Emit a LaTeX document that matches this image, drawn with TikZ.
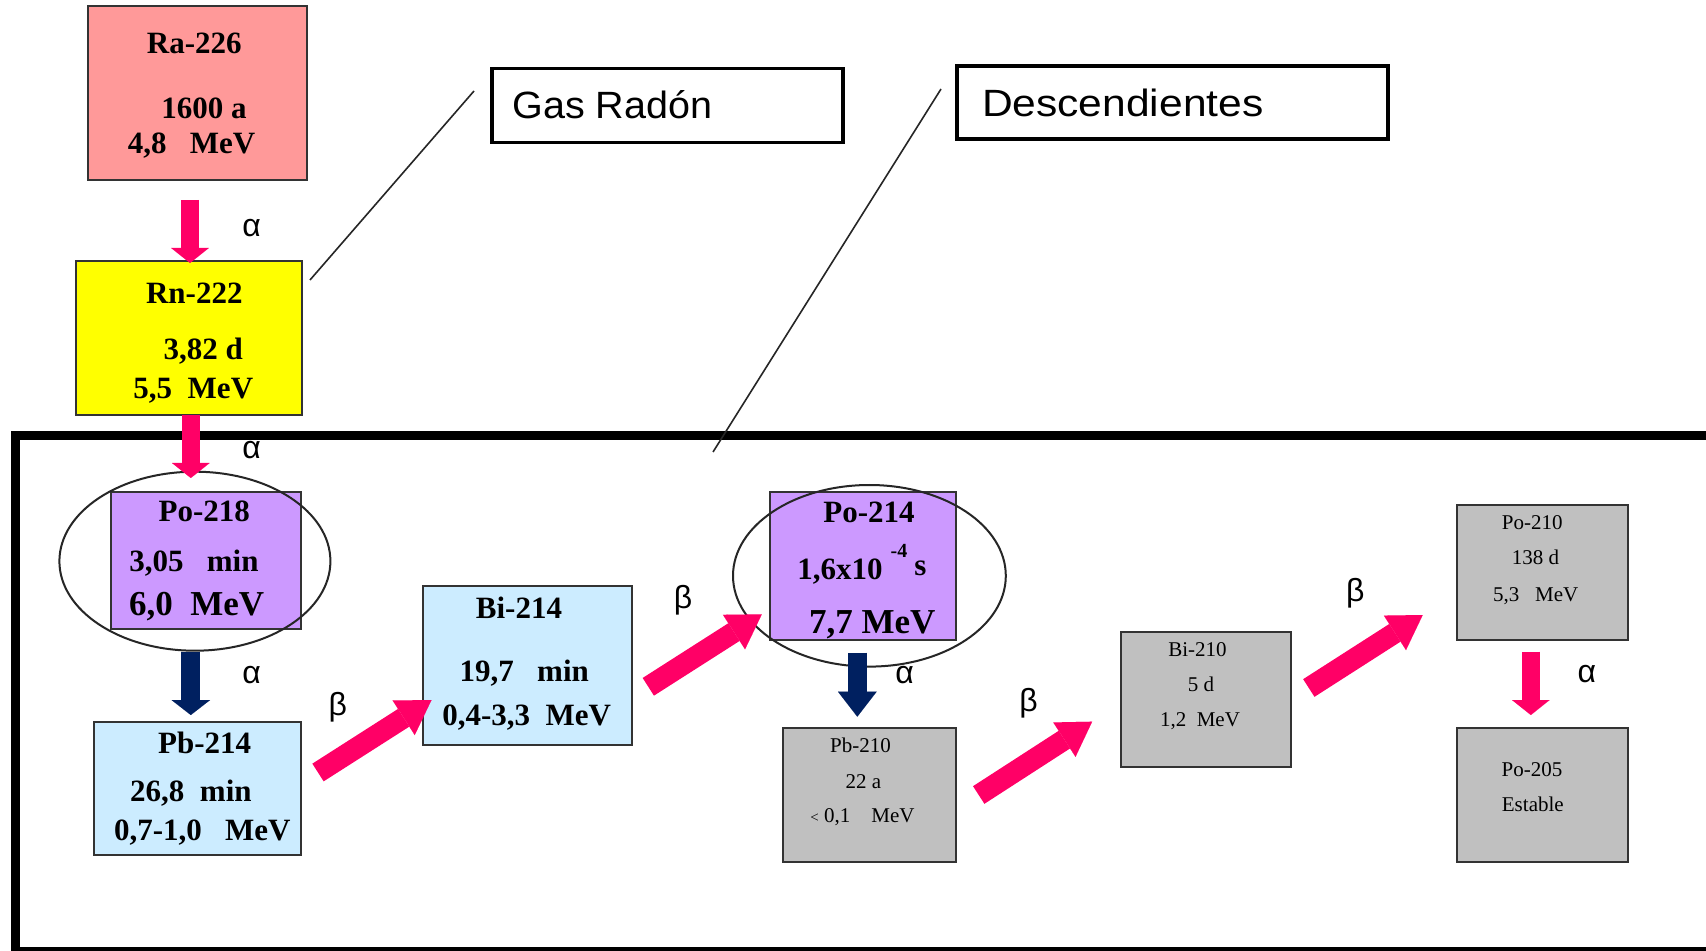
\documentclass[tikz,border=0pt]{standalone}
\usepackage{fontspec}
\setmainfont{Liberation Serif}
\newfontfamily\lsans{Liberation Sans}
\usetikzlibrary{arrows.meta,fit}
\definecolor{pinkA}{HTML}{FF0066}
\definecolor{navyA}{HTML}{002060}
\definecolor{raF}{HTML}{FF9999}
\definecolor{rnF}{HTML}{FFFF00}
\definecolor{poF}{HTML}{CC99FF}
\definecolor{blF}{HTML}{CCECFF}
\definecolor{grF}{HTML}{C0C0C0}
\newcommand\fbold{\fontsize{15.5}{18}\selectfont\bfseries}
\newcommand\fbig{\fontsize{17.5}{20}\selectfont\bfseries}
\newcommand\freg{\fontsize{10.5}{12}\selectfont}
\newcommand\flab{\fontsize{16}{18}\selectfont\lsans}
\begin{document}
\begin{tikzpicture}[x=0.5pt,y=-0.5pt,
  box/.style={draw=black!80,line width=1pt,inner sep=0pt},
  callout/.style={draw=black,line width=1.6pt,inner sep=0pt},
  txt/.style={inner sep=0pt,anchor=base},
  glab/.style={inner sep=0pt,anchor=base,font=\flab},
  ring/.style={draw=black!85,line width=1pt},
  thin/.style={draw=black!85,line width=0.8pt},
  vpink/.style={draw=pinkA,line width=9pt,-{Triangle[width=18.8pt,length=7.5pt,line width=0.01pt]}},
  vnavy/.style={draw=navyA,line width=9.6pt,-{Triangle[width=19.3pt,length=#1,line width=0.01pt]}},
  dpink/.style={draw=pinkA,line width=10.5pt,-{Triangle[width=20.5pt,length=16.5pt,line width=0.01pt]}}]
\useasboundingbox (0,0) rectangle (1706,951);
\fill[white] (0,0) rectangle (1706,951);
% frame
\begin{scope}
\clip (0,0) rectangle (1706,951);
\draw[line width=4.5pt] (15,436) rectangle (1740,951);
\end{scope}
% boxes
\node[box,fill=raF,fit={(88,6.5) (307,180)}] (ra) {};
\node[box,fill=rnF,fit={(76,261.5) (301.5,415)}] (rn) {};
\node[box,fill=poF,fit={(111,491.5) (301,629)}] (po218) {};
\node[box,fill=blF,fit={(93.5,721.5) (301,855)}] (pb214) {};
\node[box,fill=blF,fit={(423,586) (631.5,745)}] (bi214) {};
\node[box,fill=poF,fit={(770,491.5) (955.5,640)}] (po214) {};
\node[box,fill=grF,fit={(783,728) (955.5,861.5)}] (pb210) {};
\node[box,fill=grF,fit={(1120.5,632) (1290.5,767)}] (bi210) {};
\node[box,fill=grF,fit={(1456.5,505) (1627.5,640)}] (po210) {};
\node[box,fill=grF,fit={(1456.5,728) (1627.5,861.5)}] (po205) {};
\node[callout,fit={(492,68.5) (843,142.5)}] (gas) {};
\node[callout,fit={(957,66) (1388,139)}] (desc) {};
% ellipses
\draw[ring] (194.9,561.2) ellipse [x radius=135.5, y radius=89.5];
\draw[ring] (869.4,575.8) ellipse [x radius=136.4, y radius=90.8];
% callout lines
\coordinate (g1) at (310,280); \coordinate (g2) at (474,91);
\coordinate (d1) at (713,452); \coordinate (d2) at (941,89);
\draw[thin] (g1) -- (g2);
\draw[thin] (d1) -- (d2);
% callout texts
\node[txt,font=\fontsize{19}{22}\selectfont\lsans] (gastx) at (612.3,118.3) {\scalebox{1.04}[1]{Gas Radón}};
\node[txt,font=\fontsize{19}{22}\selectfont\lsans] (desctx) at (1122.8,116.7) {\scalebox{1.12}[1]{Descendientes}};
% arrows
\coordinate (a1s) at (190,200); \coordinate (a1e) at (190,263);
\coordinate (a2s) at (190.8,415); \coordinate (a2e) at (190.8,478);
\coordinate (a3s) at (190.8,651.7); \coordinate (a3e) at (190.8,715);
\coordinate (a4s) at (857.3,652.7); \coordinate (a4e) at (857.3,716.7);
\coordinate (a5s) at (1530.8,651.7); \coordinate (a5e) at (1530.8,715);
\coordinate (b1s) at (318,772.5); \coordinate (b1e) at (431.5,700);
\coordinate (b2s) at (648.3,686.8); \coordinate (b2e) at (761.8,614.3);
\coordinate (b3s) at (978.7,795); \coordinate (b3e) at (1092.1,721.7);
\coordinate (b4s) at (1308.8,688); \coordinate (b4e) at (1422.7,615);
\draw[vpink] (a1s) -- (a1e);
\draw[vpink] (a2s) -- (a2e);
\draw[vnavy=7.5pt] (a3s) -- (a3e);
\draw[vnavy=12.5pt] (a4s) -- (a4e);
\draw[vpink] (a5s) -- (a5e);
\draw[dpink] (b1s) -- (b1e);
\draw[dpink] (b2s) -- (b2e);
\draw[dpink] (b3s) -- (b3e);
\draw[dpink] (b4s) -- (b4e);
% decay labels
\node[glab] (l1) at (251.7,236.7) {α};
\node[glab] (l2) at (251.5,458.3) {α};
\node[glab] (l3) at (251.5,683.3) {α};
\node[glab] (l4) at (337.7,715) {β};
\node[glab] (l5) at (683,608) {β};
\node[glab] (l6) at (904.7,683.3) {α};
\node[glab] (l7) at (1028.6,711.6) {β};
\node[glab] (l8) at (1355.3,601.7) {β};
\node[glab] (l9) at (1586.8,682.7) {α};
% Ra-226
\node[txt,font=\fbold] (t1) at (194.3,53.3) {Ra-226};
\node[txt,font=\fbold] (t2) at (204,118.3) {1600 a};
\node[txt,font=\fbold] (t3) at (191.5,153.3) {4,8\ \ \ MeV};
% Rn-222
\node[txt,font=\fbold] (t4) at (194.3,303.3) {Rn-222};
\node[txt,font=\fbold] (t5) at (203.3,360) {3,82 d};
\node[txt,font=\fbold] (t6) at (193.3,398.3) {5,5\ \ MeV};
% Po-218
\node[txt,font=\fbold] (t7) at (204.3,521.7) {Po-218};
\node[txt,font=\fbold] (t8) at (194,571.7) {3,05\ \ \ min};
\node[txt,font=\fbig] (t9) at (196.7,615) {6,0\ \ MeV};
% Pb-214
\node[txt,font=\fbold] (t10) at (204.7,753.3) {Pb-214};
\node[txt,font=\fbold] (t11) at (190.9,801.7) {26,8\ \ min};
\node[txt,font=\fbold] (t12) at (202.3,840) {0,7-1,0\ \ \ MeV};
% Bi-214
\node[txt,font=\fbold] (t13) at (519,618.3) {Bi-214};
\node[txt,font=\fbold] (t14) at (524.3,681.7) {19,7\ \ \ min};
\node[txt,font=\fbold] (t15) at (526.7,725) {0,4-3,3\ \ MeV};
% Po-214
\node[txt,font=\fbold] (t16) at (869,522.7) {Po-214};
\node[txt,font=\fbold] (t17) at (840,579.3) {1,6x10};
\node[txt,font=\fontsize{10}{12}\selectfont\bfseries] (t18) at (899,557) {-4};
\node[txt,font=\fbold] (t19) at (920.5,575) {s};
\node[txt,font=\fbig] (t20) at (872.2,633.3) {7,7 MeV};
% Pb-210
\node[txt,font=\freg] (t21) at (860.5,752.7) {Pb-210};
\node[txt,font=\freg] (t22) at (863.5,788.3) {22 a};
\node[txt,font=\freg] (t23) at (862.5,822.7) {{\fontsize{7.5}{9}\selectfont<} 0,1\ \ \ \ MeV};
% Bi-210
\node[txt,font=\freg] (t24) at (1197.5,656.7) {Bi-210};
\node[txt,font=\freg] (t25) at (1201,691.7) {5 d};
\node[txt,font=\freg] (t26) at (1200,726.7) {1,2\ \ MeV};
% Po-210
\node[txt,font=\freg] (t27) at (1532.2,529.3) {Po-210};
\node[txt,font=\freg] (t28) at (1535.5,564) {138 d};
\node[txt,font=\freg] (t29) at (1535.7,601.7) {5,3\ \ \ MeV};
% Po-205
\node[txt,font=\freg] (t30) at (1532,776) {Po-205};
\node[txt,font=\freg] (t31) at (1532.8,811.7) {Estable};
\end{tikzpicture}
\end{document}
